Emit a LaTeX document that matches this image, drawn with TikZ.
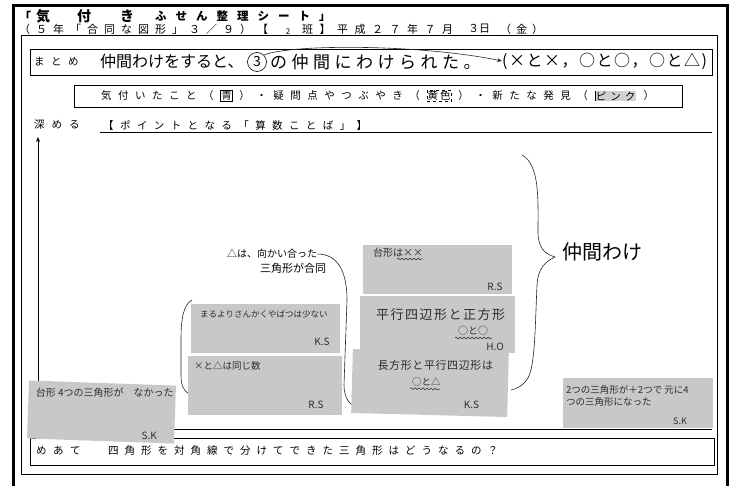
\documentclass[tikz,border=0pt]{standalone}
\usepackage{fontspec}
\setmainfont{Noto Sans CJK JP}
\usetikzlibrary{decorations.pathmorphing,arrows.meta}
\makeatletter
\newcommand\jspc[2]{\def\jspc@sk{\hspace*{#1}}\jspc@loop#2\jspc@end}
\def\jspc@end{\jspc@end}
\def\jspc@loop#1{\ifx\jspc@end#1\else#1\jspc@sk\expandafter\jspc@loop\fi}
\makeatother
\newcommand\fsz[1]{\fontsize{#1}{#1}\selectfont}
\definecolor{notegray}{RGB}{200,200,200}
\definecolor{inkgray}{RGB}{45,45,45}
\tikzset{
  txt/.style={inner sep=0pt, anchor=west},
  boxline/.style={draw=black, line width=0.8pt},
  notefill/.style={fill=notegray, draw=none},
  hwtext/.style={inner sep=0pt, text=inkgray},
  wave/.style={decorate, decoration={snake, amplitude=0.9pt, segment length=4pt}, line width=0.5pt, draw=inkgray},
  pen/.style={line width=0.6pt, draw=black!85}
}
\begin{document}
\begin{tikzpicture}[x=1pt,y=-1pt]
\useasboundingbox (0,0) rectangle (736,486);
\fill[white] (0,0) rectangle (736,486);
% frames
\draw[line width=3pt] (13,492) -- (13,6) -- (727,6) -- (727,492);
\draw[boxline] (21,35) rectangle (717,474);
% header line 1
\node[txt, font=\fsz{12}\bfseries] (h0) at (19,16) {「};
\foreach \c/\x in {気/43,付/84,き/127}
  \node[font=\fsz{14}\bfseries, inner sep=0pt] (hc\x) at (\x,16) {\c};
\node[txt, font=\fsz{11.5}\bfseries] (h1) at (155,16) {\jspc{9pt}{ふせん整理シート」}};
% header line 2
\node[txt, font=\fsz{11}] (h2) at (19,29) {\jspc{6pt}{（５年「合同な図形」３／９）【}};
\node[inner sep=0pt, font=\fsz{8}] (h3) at (288,32) {2};
\node[txt, font=\fsz{11}] (h4) at (302,29) {\jspc{6.5pt}{班】平成２７年７月}};
\node[txt, font=\fsz{11}] (h5) at (468,29) {３日};
\node[txt, font=\fsz{11}] (h6) at (500,29) {\jspc{5pt}{（金）}};
% matome
\draw[boxline] (30,49) rectangle (712,75);
\node[txt, font=\fsz{10.5}] (m1) at (34,62) {\jspc{6.5pt}{まとめ}};
\node[txt, font=\fsz{16}] (m2) at (100,61) {仲間わけをすると、};
\node[draw, circle, line width=0.6pt, minimum size=19pt, inner sep=0pt, font=\fsz{14}] (m3) at (257,62) {3};
\node[txt, font=\fsz{17}] (m4) at (270,62) {\jspc{4.5pt}{の仲間にわけられた。}};
\node[txt, font=\fsz{16}] (m5) at (502,61) {\jspc{1.5pt}{(×と×，○と○，○と△)}};
\draw[pen, -{Stealth[length=5pt]}] (m3.north east) .. controls (290,44) and (420,44) .. (m5.west);
% kizuki box
\draw[boxline] (74,85) rectangle (682,107);
\begin{scope}[every node/.style={font=\fsz{10.5}}]
\node[txt] (k1) at (101,96) {\jspc{6.5pt}{気付いたこと（}};
\node[txt, draw, line width=0.5pt, inner sep=0.6pt] (k2) at (k1.east) {青};
\node[txt] (k3) at ([xshift=6.5pt]k2.east) {\jspc{6.5pt}{）・疑問点やつぶやき（}};
\node[txt, draw, dashed, line width=0.5pt, inner sep=0.8pt] (k4) at (k3.east) {黄\hspace*{2pt}色};
\node[txt] (k5) at ([xshift=6.5pt]k4.east) {\jspc{6.5pt}{）・新たな発見（}};
\node[txt, draw, double, line width=0.5pt, fill=black!18, inner sep=1.2pt] (k6) at (k5.east) {ピ\hspace*{4pt}ン\hspace*{4pt}ク};
\node[txt] (k7) at ([xshift=6.5pt]k6.east) {）};
\end{scope}
% fukameru
\node[txt, font=\fsz{10.5}] (f1) at (34,125) {\jspc{7pt}{深める}};
\node[txt, font=\fsz{10.5}] (f2) at (103,125) {\jspc{6.4pt}{【ポイントとなる「算数ことば」】}};
\coordinate (u0) at (100,132.5);
\coordinate (u1) at (712,132.5);
\draw[line width=0.8pt] (u0) -- (u1);
\coordinate (a0) at (38,400);
\coordinate (a1) at (38,137);
\draw[line width=0.7pt, -{Stealth[length=5pt,width=4pt]}] (a0) -- (a1);
% lower line and meate box
\coordinate (l0) at (30,429);
\coordinate (l1) at (712,429);
\draw[line width=0.9pt] (l0) -- (l1);
\draw[boxline] (30,438) rectangle (714,465);
\node[txt, font=\fsz{10.5}] (e1) at (36,451) {\jspc{6.5pt}{めあて}};
\node[txt, font=\fsz{10.5}] (e2) at (108,451) {\jspc{6pt}{四角形を対角線で分けてできた三角形はどうなるの？}};
% braces and handwriting
\draw[pen] (522,155) .. controls (540,165) and (538,200) .. (538,232)
  .. controls (538,248) and (545,254) .. (555,257)
  .. controls (545,262) and (538,268) .. (537,285)
  .. controls (535,330) and (535,365) .. (528,378)
  .. controls (523,386) and (516,389) .. (511,390);
\node[txt, font=\fsz{20}] (nakama) at (562,252) {仲間わけ};
\node[txt, font=\fsz{10}] (tri1) at (227,254) {△は、向かい合った};
\node[txt, font=\fsz{11}] (tri2) at (260,268) {三角形が合同};
\draw[pen] (tri1.east) .. controls (338,254) and (347,272) .. (347,300)
  -- (344,385) .. controls (344,398) and (350,405) .. (356,407);
\draw[pen] (192,300) .. controls (183,305) and (181,320) .. (181,340)
  -- (181,375) .. controls (181,386) and (184,391) .. (189,394);
% notes
\begin{scope}[rotate around={-2:(101,412)}]
\fill[notefill] (28,383) rectangle (175,441);
\node[txt, hwtext, font=\fsz{10}] (na) at (35,395) {台形 4つの三角形が　なかった};
\node[hwtext, font=\fsz{10}] (nas) at (150,434) {S.K};
\end{scope}
\fill[notefill] (191,304) rectangle (340,353);
\node[txt, hwtext, font=\fsz{8.5}] (nb) at (200,314) {まるよりさんかくやばつは少ない};
\node[hwtext, font=\fsz{10}] (nbs) at (322,342) {K.S};
\fill[notefill] (188,356) rectangle (342,415);
\node[txt, hwtext, font=\fsz{9.5}] (nc) at (194,366) {×と△は同じ数};
\node[hwtext, font=\fsz{10}] (ncs) at (316,405) {R.S};
\fill[notefill] (363,245) rectangle (512,294);
\node[txt, hwtext, font=\fsz{10}] (nd) at (373,253) {台形は××};
\draw[wave] (397,259) -- (423,259);
\node[hwtext, font=\fsz{10}] (nds) at (495,287) {R.S};
\fill[notefill] (360,296) rectangle (515,353);
\node[txt, hwtext, font=\fsz{13}] (ne) at (376,315) {\jspc{1.5pt}{平行四辺形と正方形}};
\node[txt, hwtext, font=\fsz{10}] (ne2) at (458,331) {○と○};
\draw[wave] (455,338) -- (492,338);
\node[hwtext, font=\fsz{10}] (nes) at (495,347) {H.O};
\begin{scope}[rotate around={-1.5:(430,383)}]
\fill[notefill] (352,351) rectangle (508,415);
\node[txt, hwtext, font=\fsz{11}] (nf) at (377,367) {\jspc{0.6pt}{長方形と平行四辺形は}};
\node[txt, hwtext, font=\fsz{9.5}] (nf2) at (412,382) {○と△};
\draw[wave] (410,389) -- (440,389);
\node[hwtext, font=\fsz{10}] (nfs) at (472,404) {K.S};
\end{scope}
\fill[notefill] (563,378) rectangle (713,428);
\node[txt, hwtext, font=\fsz{9.5}] (ng) at (566,390) {2つの三角形が＋2つで 元に4};
\node[txt, hwtext, font=\fsz{9.5}] (ng2) at (566,402) {つの三角形になった};
\node[hwtext, font=\fsz{9}] (ngs) at (680,421) {S.K};
\end{tikzpicture}
\end{document}
